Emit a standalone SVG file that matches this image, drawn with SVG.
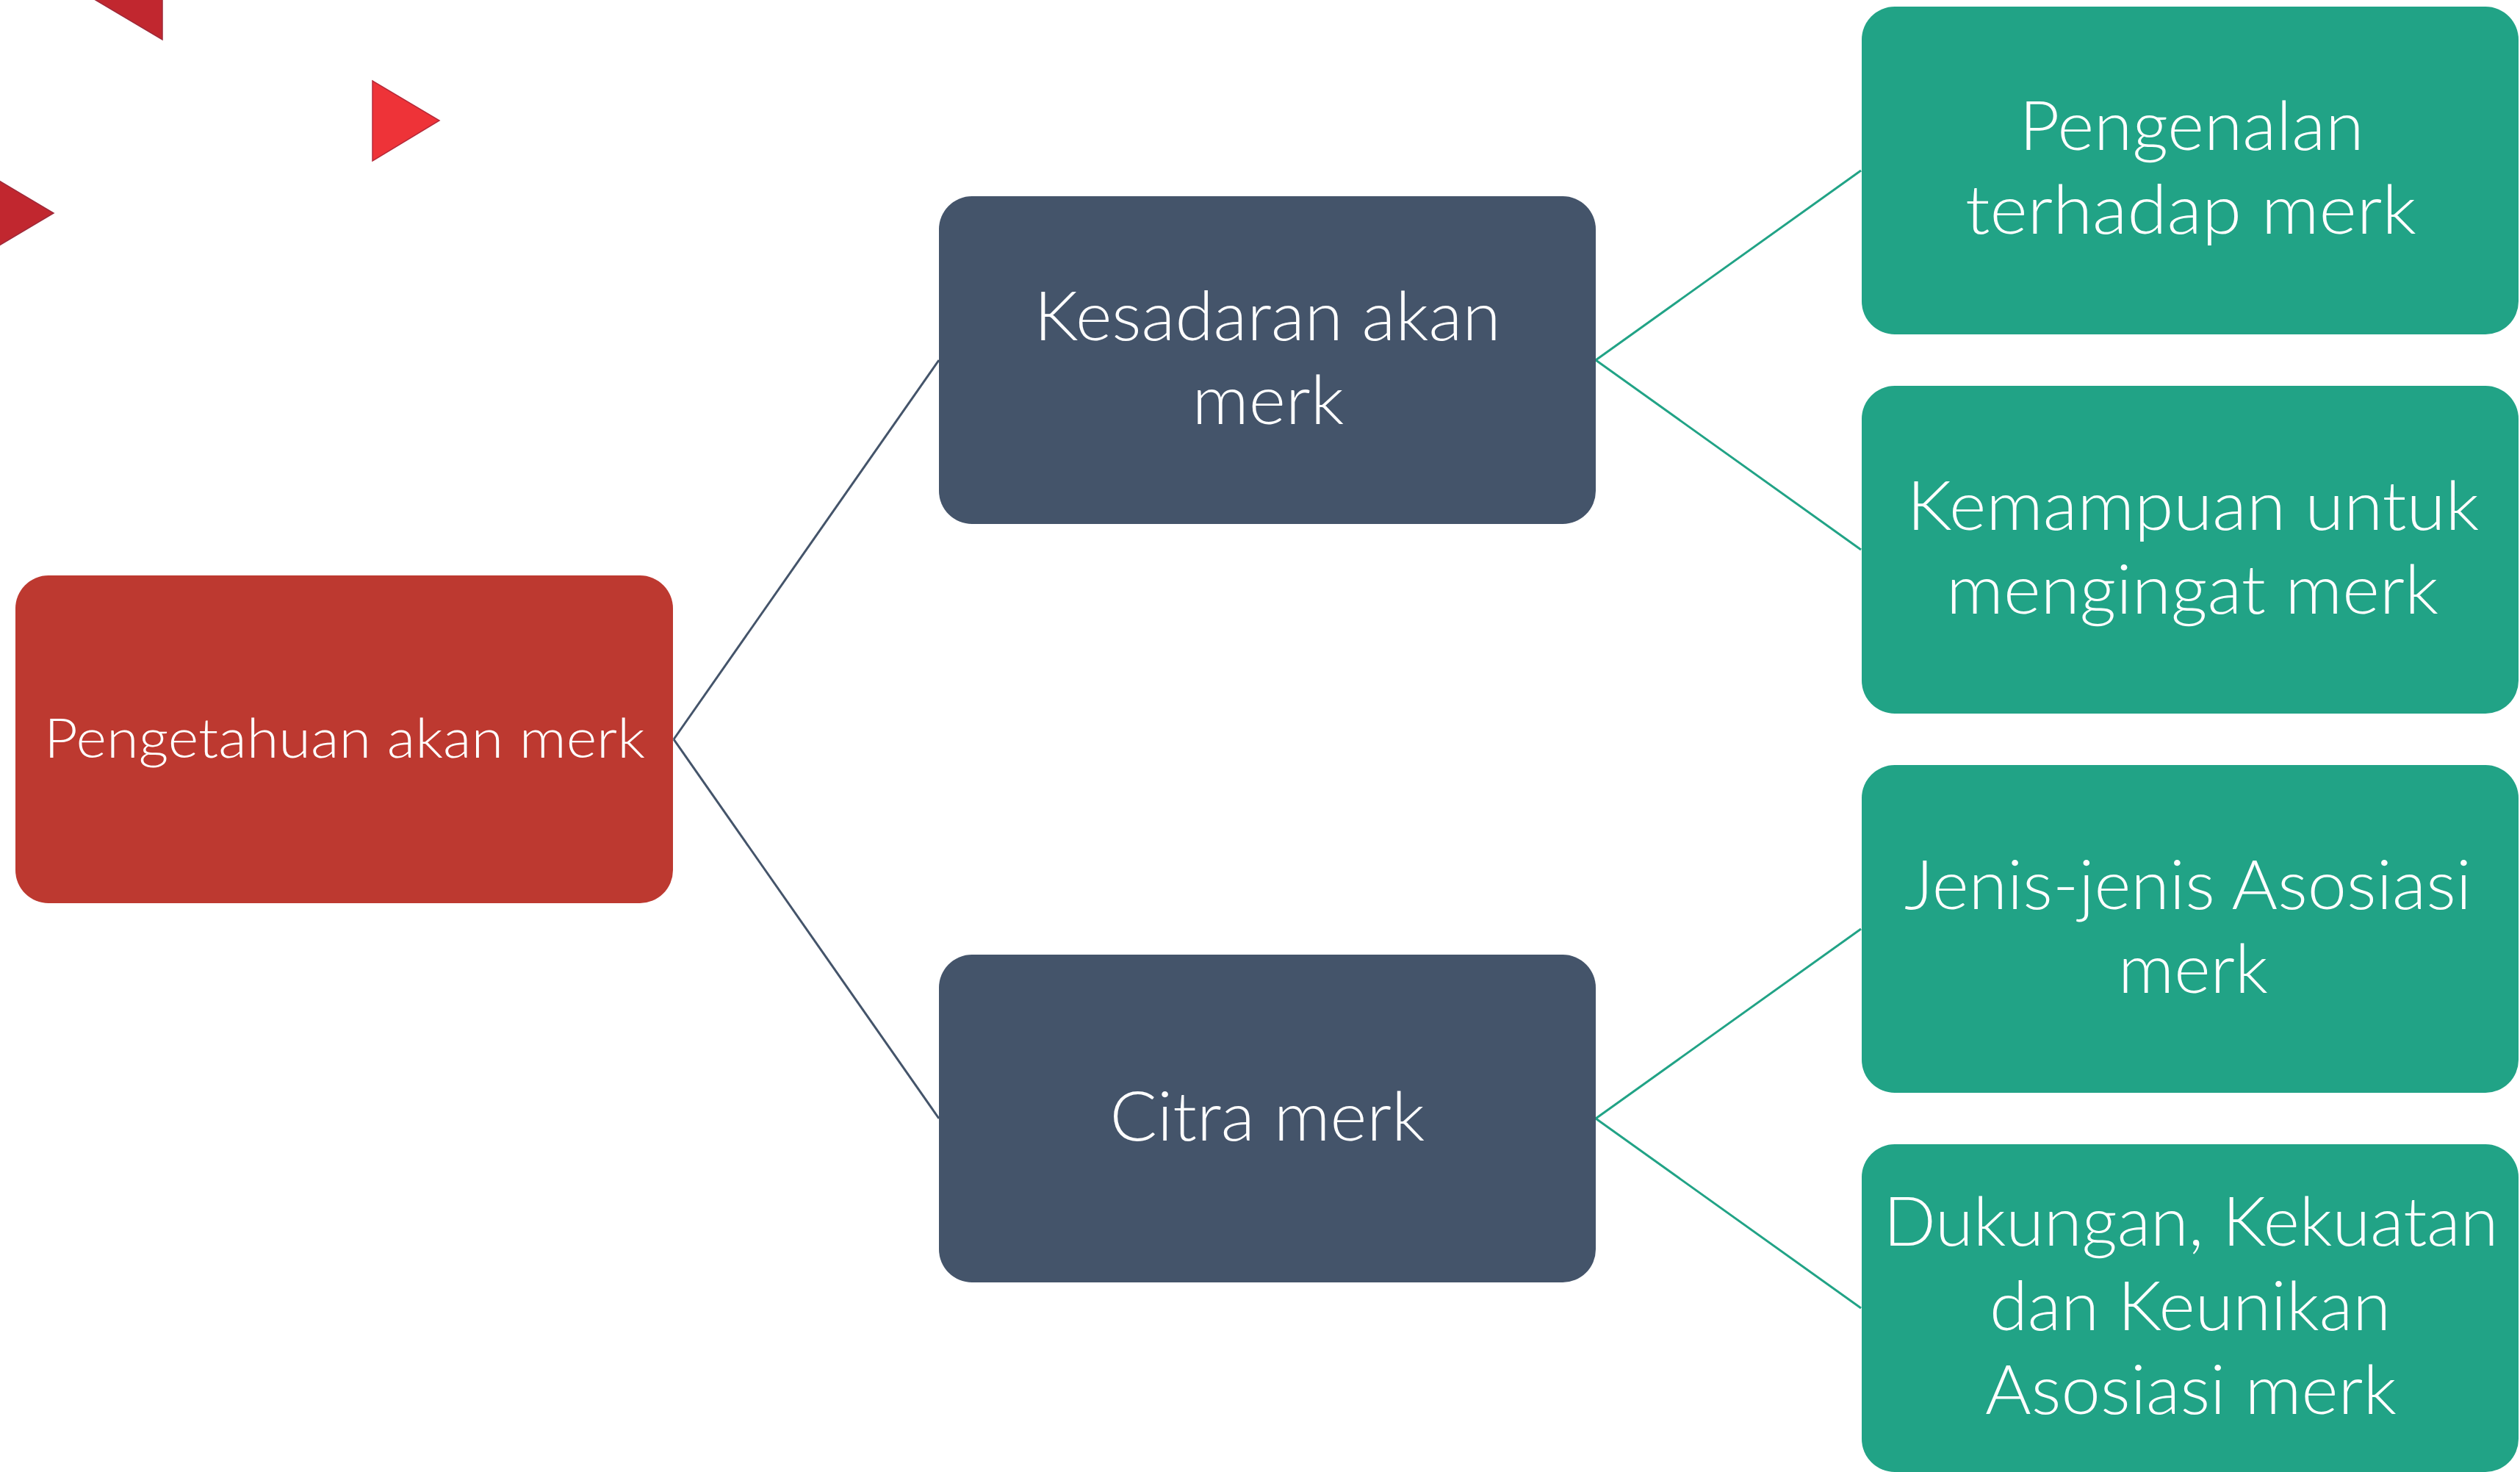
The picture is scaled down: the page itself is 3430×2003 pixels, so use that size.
<svg xmlns="http://www.w3.org/2000/svg" width="3430" height="2003" viewBox="0 0 3430 2003">
<style>
.box{stroke:none}
.red{fill:#BD3930}
.dark{fill:#44546A}
.green{fill:#21A386}
.t{font-family:Lato,"Liberation Sans",sans-serif;font-weight:300;fill:#FFFFFF;text-anchor:middle}
.big{font-size:92px}
.small{font-size:74px}
.c1{stroke:#44546A;stroke-width:3;fill:none}
.c2{stroke:#21A386;stroke-width:3;fill:none}
</style>
<rect width="3430" height="2003" fill="#FFFFFF"/>
<g id="decor">
<polygon points="221,-55 221,54 130,0" fill="#C1272F" stroke="#9E2A3A" stroke-width="1.5"/>
<polygon points="507,110 598,164 507,219" fill="#EE3338" stroke="#B52A3A" stroke-width="1.5"/>
<polygon points="-18,236 73,290 -18,344" fill="#C1272F" stroke="#9E2A3A" stroke-width="1.5"/>
</g>
<g id="connectors">
<line class="c1" x1="917" y1="1006" x2="1278" y2="490"/>
<line class="c1" x1="917" y1="1006" x2="1278" y2="1522"/>
<line class="c2" x1="2172" y1="490" x2="2533" y2="232"/>
<line class="c2" x1="2172" y1="490" x2="2533" y2="748"/>
<line class="c2" x1="2172" y1="1522" x2="2533" y2="1264"/>
<line class="c2" x1="2172" y1="1522" x2="2533" y2="1780"/>
</g>
<g id="node-pengetahuan">
<rect class="box red" x="21" y="783" width="895" height="446" rx="45" ry="45"/>
<text class="t small" x="469" y="1031" textLength="818" lengthAdjust="spacingAndGlyphs">Pengetahuan akan merk</text>
</g>
<g id="node-kesadaran">
<rect class="box dark" x="1278" y="267" width="894" height="446" rx="45" ry="45"/>
<text class="t big" x="1725" y="463" textLength="635" lengthAdjust="spacingAndGlyphs">Kesadaran akan</text>
<text class="t big" x="1726" y="577" textLength="207" lengthAdjust="spacingAndGlyphs">merk</text>
</g>
<g id="node-citra">
<rect class="box dark" x="1278" y="1299" width="894" height="446" rx="45" ry="45"/>
<text class="t big" x="1725" y="1552" textLength="429" lengthAdjust="spacingAndGlyphs">Citra merk</text>
</g>
<g id="node-pengenalan">
<rect class="box green" x="2534" y="9" width="894" height="446" rx="45" ry="45"/>
<text class="t big" x="2983" y="204" textLength="469" lengthAdjust="spacingAndGlyphs">Pengenalan</text>
<text class="t big" x="2982" y="318" textLength="614" lengthAdjust="spacingAndGlyphs">terhadap merk</text>
</g>
<g id="node-kemampuan">
<rect class="box green" x="2534" y="525" width="894" height="446" rx="45" ry="45"/>
<text class="t big" x="2985" y="721" textLength="779" lengthAdjust="spacingAndGlyphs">Kemampuan untuk</text>
<text class="t big" x="2984" y="835" textLength="670" lengthAdjust="spacingAndGlyphs">mengingat merk</text>
</g>
<g id="node-jenis">
<rect class="box green" x="2534" y="1041" width="894" height="446" rx="45" ry="45"/>
<text class="t big" x="2978" y="1237" textLength="772" lengthAdjust="spacingAndGlyphs">Jenis-jenis Asosiasi</text>
<text class="t big" x="2985" y="1351" textLength="204" lengthAdjust="spacingAndGlyphs">merk</text>
</g>
<g id="node-dukungan">
<rect class="box green" x="2534" y="1557" width="894" height="446" rx="45" ry="45"/>
<text class="t big" x="2982" y="1695" textLength="837" lengthAdjust="spacingAndGlyphs">Dukungan, Kekuatan</text>
<text class="t big" x="2981" y="1810" textLength="546" lengthAdjust="spacingAndGlyphs">dan Keunikan</text>
<text class="t big" x="2982" y="1924" textLength="560" lengthAdjust="spacingAndGlyphs">Asosiasi merk</text>
</g>
</svg>
